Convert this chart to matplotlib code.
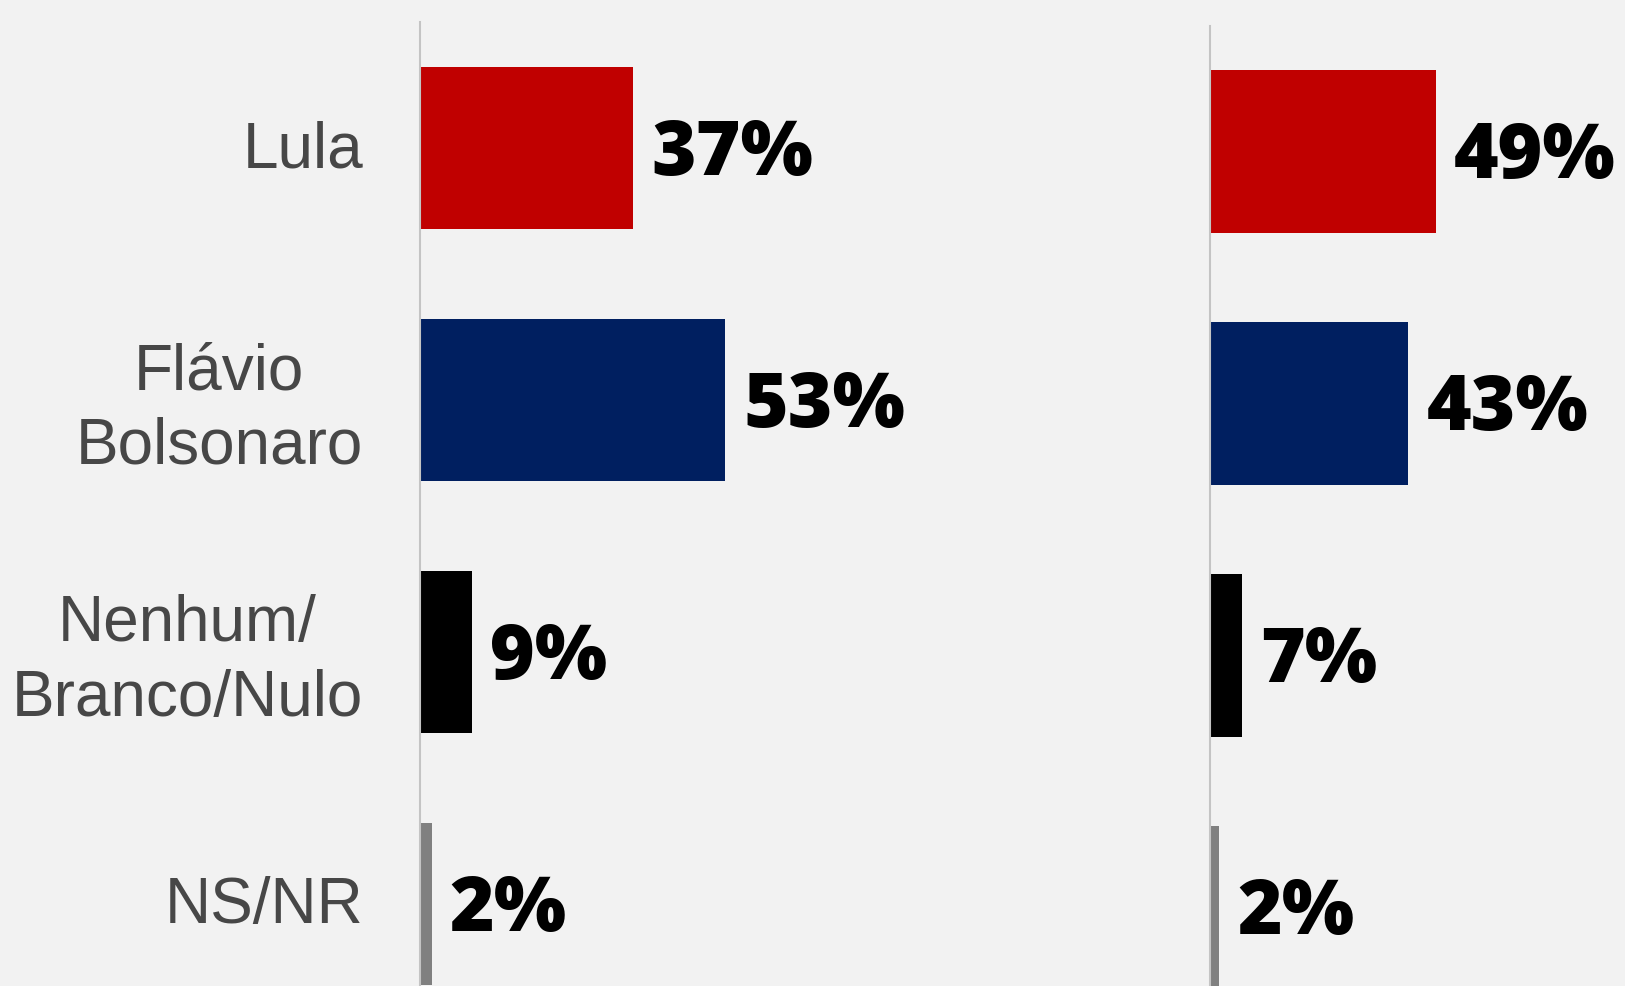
import matplotlib
matplotlib.use("Agg")
import matplotlib.pyplot as plt
from matplotlib.transforms import ScaledTranslation

categories = ["Lula", "Flávio\nBolsonaro", "Nenhum/\nBranco/Nulo", "NS/NR"]
values_left = [37, 53, 9, 2]
values_right = [49, 43, 7, 2]
colors = ["#C00000", "#001F60", "#000000", "#808080"]

W, H = 1625, 987
fig = plt.figure(figsize=(W / 100, H / 100), dpi=100)
fig.patch.set_facecolor("#F2F2F2")

def make_axes(x0, top, px_per_unit, xmax):
    step = 252
    height = 4 * step
    ax = fig.add_axes([x0 / W, (H - (top + height)) / H, px_per_unit * xmax / W, height / H])
    ax.set_facecolor("none")
    ax.set_xlim(0, xmax)
    ax.set_ylim(3.5, -0.5)
    for s in ["top", "right", "bottom"]:
        ax.spines[s].set_visible(False)
    ax.spines["left"].set_color("#C4C4C4")
    ax.spines["left"].set_linewidth(1.5)
    ax.set_xticks([])
    return ax

ax1 = make_axes(420, 23, 5.76, 100)
ax2 = make_axes(1210, 26.5, 4.61, 100)

for ax, vals in [(ax1, values_left), (ax2, values_right)]:
    ypos = list(range(len(categories)))
    ax.barh(ypos, vals, height=0.643, color=colors, zorder=2)
    for y, v in zip(ypos, vals):
        ax.annotate(f"{v}%", xy=(v, y), xytext=(13, -4), textcoords="offset points",
                    ha="left", va="center", fontsize=55, fontweight=800,
                    family=["Open Sans", "DejaVu Sans"], color="#000000", annotation_clip=False)

ax1.set_yticks(range(len(categories)))
ax1.set_yticklabels(categories, family=["Liberation Sans", "DejaVu Sans"], fontsize=46,
                    color="#474747", multialignment="center", linespacing=1.3)
ax1.tick_params(axis="y", length=0, pad=41)
shift = ScaledTranslation(0, 5 / 100, fig.dpi_scale_trans)
for lab in ax1.get_yticklabels():
    lab.set_transform(lab.get_transform() + shift)
ax2.set_yticks([])

fig.savefig("out.png", dpi=100, facecolor=fig.get_facecolor())
